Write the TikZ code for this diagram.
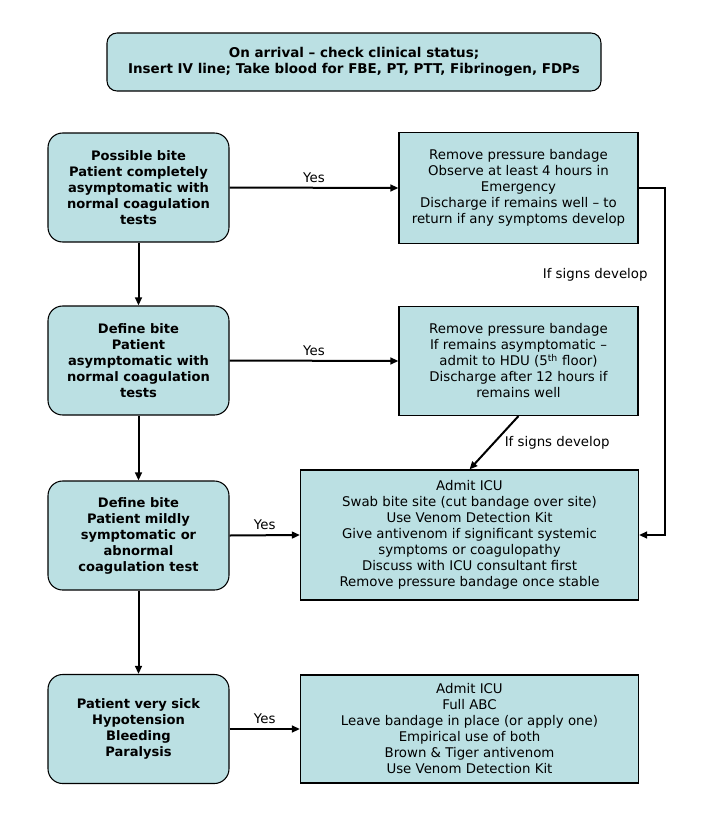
\documentclass[tikz,border=0pt]{standalone}
\usepackage{fontspec}
\setmainfont{DejaVu Sans}
\usetikzlibrary{positioning,arrows.meta}
\definecolor{boxfill}{RGB}{187,224,227}

\begin{document}
\begin{tikzpicture}[x = 0.75pt, y = -0.75pt,
        every node/.style = {font = \fontsize{10}{12}\selectfont},
        casebox/.style = {draw, line width = 0.8pt, fill = boxfill, rounded corners = 11pt, align = center, inner sep = 0pt,
            font = \fontsize{9.8}{12}\selectfont\bfseries, minimum width = 135.75pt, minimum height = 81.75pt},
        actionbox/.style = {draw, line width = 0.8pt, fill = boxfill, align = center, inner sep = 0pt,
            minimum width = 179.25pt, minimum height = 82pt},
        widebox/.style = {actionbox, minimum width = 253.5pt},
        flow/.style = {line width = 1.5pt, -{Triangle[length = 6pt, width = 5pt]}}]

        \def\colL{138.5}
        \def\colR{518.5}
        \def\colW{469.5}

        \useasboundingbox (0, 0) rectangle (707, 832);

        % draw arrival box
        \node[casebox, rounded corners = 7.5pt, minimum width = 370.5pt, minimum height = 43.5pt,
            font = \fontsize{10.1}{12}\selectfont\bfseries] (arrival) at (354, 62)
            {On arrival -- check clinical status;\\Insert IV line; Take blood for FBE, PT, PTT, Fibrinogen, FDPs};

        % draw case boxes (left column)
        \node[casebox] (possible) at (\colL, 187.5) {Possible bite\\Patient completely\\asymptomatic with\\normal coagulation\\tests};
        \node[casebox] (defined) at (\colL, 360.5) {Define bite\\Patient\\asymptomatic with\\normal coagulation\\tests};
        \node[casebox] (mild) at (\colL, 535.5) {Define bite\\Patient mildly\\symptomatic or\\abnormal\\coagulation test};
        \node[casebox] (sick) at (\colL, 729) {Patient very sick\\Hypotension\\Bleeding\\Paralysis};

        % draw action boxes (right column)
        \node[actionbox, minimum height = 83pt] (observe) at (\colR, 188)
            {Remove pressure bandage\\Observe at least 4 hours in\\Emergency\\Discharge if remains well -- to\\return if any symptoms develop};
        \node[actionbox, minimum height = 81.75pt] (hdu) at (\colR, 361)
            {Remove pressure bandage\\If remains asymptomatic --\\admit to HDU (5\textsuperscript{th} floor)\\Discharge after 12 hours if\\remains well};
        \node[widebox, minimum height = 97.5pt] (icu) at (\colW, 535)
            {Admit ICU\\Swab bite site (cut bandage over site)\\Use Venom Detection Kit\\Give antivenom if significant systemic\\symptoms or coagulopathy\\Discuss with ICU consultant first\\Remove pressure bandage once stable};
        \node[widebox, minimum height = 81pt] (resus) at (\colW, 729)
            {Admit ICU\\Full ABC\\Leave bandage in place (or apply one)\\Empirical use of both\\Brown \& Tiger antivenom\\Use Venom Detection Kit};

        % draw downward flow
        \foreach \a/\b in {possible/defined, defined/mild, mild/sick} {
            \draw[flow] (\a.south) to (\b.north);
        }

        % draw yes branches
        \foreach \a/\b in {possible/observe, defined/hdu, mild/icu, sick/resus} {
            \draw[flow] (\a.east) to node[above] {Yes} (\b.west);
        }

        % draw escalation paths
        \coordinate (loopR) at (665, 188);
        \draw[flow] (observe.east) -- (loopR) |- (icu.east) node[pos = 0.125, left = 9pt] {If signs develop};
        \draw[flow] (hdu.south) to node[right = 4pt] {If signs develop} (icu.north);

\end{tikzpicture}
\end{document}
